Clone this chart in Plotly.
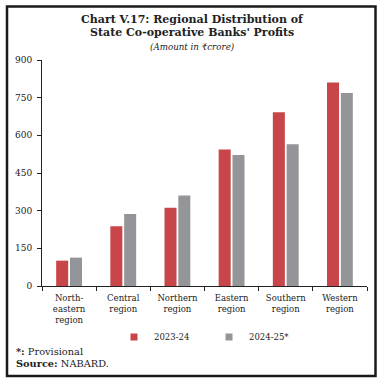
import plotly.graph_objects as go

categories = ["North-<br>eastern<br>region", "Central<br>region", "Northern<br>region",
              "Eastern<br>region", "Southern<br>region", "Western<br>region"]
series_2023_24 = [101, 238, 312, 544, 692, 810]
series_2024_25 = [113, 287, 360, 522, 564, 769]
y_ticks = [0, 150, 300, 450, 600, 750, 900]

FONT = "DejaVu Serif"
RED = "#C8464A"
GREY = "#949598"
INK = "#222"

fig = go.Figure()
fig.add_trace(go.Bar(x=categories, y=series_2023_24, name="2023-24", showlegend=False,
                     legendgroup="a", marker=dict(color=RED, line=dict(width=0))))
fig.add_trace(go.Bar(x=categories, y=series_2024_25, name="2024-25*", showlegend=False,
                     legendgroup="b", marker=dict(color=GREY, line=dict(width=0))))
# legend entries (small square keys, as in the reference)
fig.add_trace(go.Scatter(x=[None], y=[None], mode="markers", name="2023-24", legendgroup="a",
                         marker=dict(symbol="square", size=7, color=RED), hoverinfo="skip"))
fig.add_trace(go.Scatter(x=[None], y=[None], mode="markers", name="2024-25*", legendgroup="b",
                         marker=dict(symbol="square", size=7, color=GREY), hoverinfo="skip"))

L, R, T, B = 42, 17, 60, 98
PW, PH = 384 - L - R, 384 - T - B

def px(x):
    return (x - L) / PW

def py(y):
    return (384 - B - y) / PH

fig.update_layout(
    width=384, height=384,
    margin=dict(l=L, r=R, t=T, b=B, autoexpand=False),
    paper_bgcolor="white", plot_bgcolor="white",
    barmode="group", bargap=0.49, bargroupgap=0.13,
    font=dict(family=FONT, size=9, color=INK),
    showlegend=True,
    legend=dict(orientation="h", x=px(114), y=py(337), yanchor="middle", xanchor="left",
                font=dict(family=FONT, size=8.5, color=INK),
                entrywidth=50, itemwidth=30, bgcolor="rgba(0,0,0,0)"),
    xaxis=dict(showline=True, linecolor=INK, linewidth=1, ticks="outside",
               tickson="boundaries", ticklen=4, tickcolor=INK, ticklabelstandoff=4,
               tickfont=dict(family=FONT, size=8.5, color=INK), showgrid=False,
               fixedrange=True),
    yaxis=dict(range=[0, 900], tickvals=y_ticks, showline=True, linecolor=INK,
               linewidth=1, ticks="outside", ticklen=4, tickcolor=INK, ticklabelstandoff=3,
               tickfont=dict(family=FONT, size=9, color=INK), showgrid=False,
               zeroline=False, fixedrange=True),
)

for text, y in [("<b>Chart V.17: Regional Distribution of</b>", 19),
                ("<b>State Co-operative Banks' Profits</b>", 33)]:
    fig.add_annotation(text=text, x=px(192), y=py(y), xref="paper", yref="paper",
                       showarrow=False, xanchor="center", yanchor="middle",
                       font=dict(family=FONT, size=11, color=INK))
fig.add_annotation(text="<i>(Amount in ₹crore)</i>", x=px(192), y=py(47), xref="paper",
                   yref="paper", showarrow=False, xanchor="center", yanchor="middle",
                   font=dict(family=FONT, size=8.7, color=INK))
fig.add_annotation(text="<b>*:</b> Provisional", x=px(14), y=py(351), xref="paper",
                   yref="paper", showarrow=False, xanchor="left", yanchor="middle",
                   font=dict(family=FONT, size=9.8, color=INK))
fig.add_annotation(text="<b>Source:</b> NABARD.", x=px(14), y=py(363), xref="paper",
                   yref="paper", showarrow=False, xanchor="left", yanchor="middle",
                   font=dict(family=FONT, size=9.8, color=INK))

fig.add_shape(type="rect", xref="paper", yref="paper",
              x0=px(7), x1=px(375.5), y0=py(376), y1=py(6.5),
              line=dict(color="#1a1a1a", width=2.5), fillcolor="rgba(0,0,0,0)", layer="below")

fig.write_html("out.html", config={"displayModeBar": False},
               post_script="document.body.style.margin='0';document.body.style.overflow='hidden';")
